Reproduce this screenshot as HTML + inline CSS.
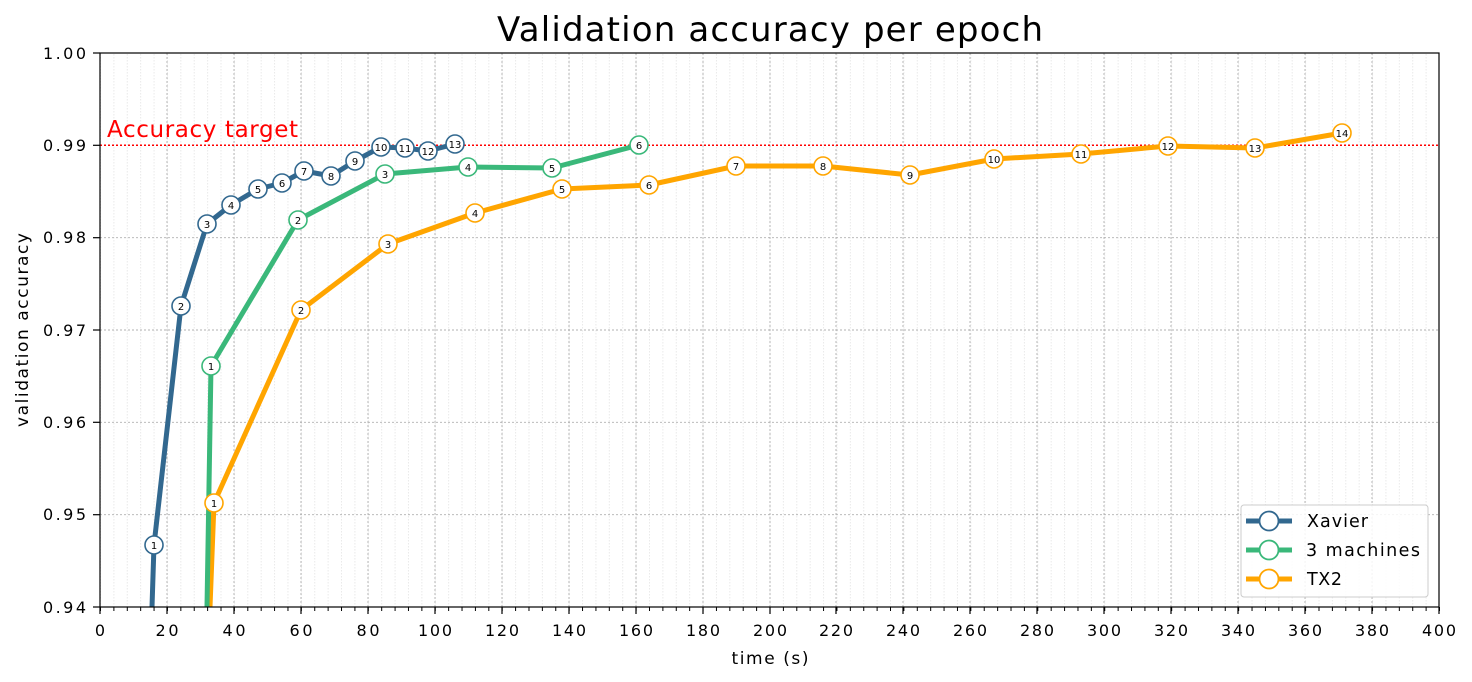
<!DOCTYPE html>
<html><head><meta charset="utf-8"><style>
body{margin:0;background:#fff}
svg{display:block;font-family:"DejaVu Sans","Liberation Sans",sans-serif}
</style></head><body>
<svg width="1472" height="682" viewBox="0 0 1472 682" xmlns="http://www.w3.org/2000/svg">
<defs>
<pattern id="minor" x="100" y="0" width="13.39" height="700" patternUnits="userSpaceOnUse">
<line x1="0.5" y1="0" x2="0.5" y2="700" stroke="#e4e4e4" stroke-width="0.8" stroke-dasharray="1.5,1.5"/>
</pattern>
<pattern id="mtick" x="100" y="0" width="13.39" height="700" patternUnits="userSpaceOnUse">
<line x1="0.5" y1="0" x2="0.5" y2="700" stroke="#000" stroke-width="1"/>
</pattern>
</defs>
<text x="770" y="41" font-size="34" text-anchor="middle" fill="#000" textLength="546" lengthAdjust="spacing">Validation accuracy per epoch</text>
<rect x="100" y="53" width="1339" height="554" fill="url(#minor)"/>
<rect x="100" y="607" width="1340" height="4" fill="url(#mtick)"/>
<g stroke="#b0b0b0" stroke-width="0.9" stroke-dasharray="2,2">
<line x1="167" y1="53" x2="167" y2="607"/><line x1="234" y1="53" x2="234" y2="607"/><line x1="301" y1="53" x2="301" y2="607"/><line x1="368" y1="53" x2="368" y2="607"/><line x1="435" y1="53" x2="435" y2="607"/><line x1="502" y1="53" x2="502" y2="607"/><line x1="569" y1="53" x2="569" y2="607"/><line x1="636" y1="53" x2="636" y2="607"/><line x1="703" y1="53" x2="703" y2="607"/><line x1="770" y1="53" x2="770" y2="607"/><line x1="836" y1="53" x2="836" y2="607"/><line x1="903" y1="53" x2="903" y2="607"/><line x1="970" y1="53" x2="970" y2="607"/><line x1="1037" y1="53" x2="1037" y2="607"/><line x1="1104" y1="53" x2="1104" y2="607"/><line x1="1171" y1="53" x2="1171" y2="607"/><line x1="1238" y1="53" x2="1238" y2="607"/><line x1="1305" y1="53" x2="1305" y2="607"/><line x1="1372" y1="53" x2="1372" y2="607"/>
<line x1="100" y1="514.7" x2="1439" y2="514.7"/><line x1="100" y1="422.3" x2="1439" y2="422.3"/><line x1="100" y1="330" x2="1439" y2="330"/><line x1="100" y1="237.7" x2="1439" y2="237.7"/>
</g>
<line x1="100" y1="145.3" x2="1439" y2="145.3" stroke="#f00" stroke-width="1.5" stroke-dasharray="2,2"/>
<text x="107" y="137" font-size="23" fill="#f00" textLength="191" lengthAdjust="spacing">Accuracy target</text>
<g fill="none" stroke-width="5" stroke-linejoin="round">
<polyline stroke="#ffa500" points="210,607 214,503 301,310 388,244 475,213 562,189 649,185 736,166 823,166 910,175 994,159 1081,154 1168,146 1255,148 1342,133"/>
<polyline stroke="#3ab87a" points="207,607 211,366 298,220 385,174 468,167 552,168 639,145"/>
<polyline stroke="#32688f" points="152,607 154,545 181,306 207,224 231,205 258,189 282,183 304,171 331,176 355,161 381,147 405,148 428,151 455,144"/>
</g>
<g font-size="10" text-anchor="middle" fill="#000">
<g fill="#fff" stroke="#ffa500" stroke-width="1.6">
<circle cx="214" cy="503" r="9"/><circle cx="301" cy="310" r="9"/><circle cx="388" cy="244" r="9"/><circle cx="475" cy="213" r="9"/><circle cx="562" cy="189" r="9"/><circle cx="649" cy="185" r="9"/><circle cx="736" cy="166" r="9"/><circle cx="823" cy="166" r="9"/><circle cx="910" cy="175" r="9"/><circle cx="994" cy="159" r="9"/><circle cx="1081" cy="154" r="9"/><circle cx="1168" cy="146" r="9"/><circle cx="1255" cy="148" r="9"/><circle cx="1342" cy="133" r="9"/>
</g>
<text x="214" y="507">1</text><text x="301" y="314">2</text><text x="388" y="248">3</text><text x="475" y="217">4</text><text x="562" y="193">5</text><text x="649" y="189">6</text><text x="736" y="170">7</text><text x="823" y="170">8</text><text x="910" y="179">9</text><text x="994" y="163">10</text><text x="1081" y="158">11</text><text x="1168" y="150">12</text><text x="1255" y="152">13</text><text x="1342" y="137">14</text>
<g fill="#fff" stroke="#3ab87a" stroke-width="1.6">
<circle cx="211" cy="366" r="9"/><circle cx="298" cy="220" r="9"/><circle cx="385" cy="174" r="9"/><circle cx="468" cy="167" r="9"/><circle cx="552" cy="168" r="9"/><circle cx="639" cy="145" r="9"/>
</g>
<text x="211" y="370">1</text><text x="298" y="224">2</text><text x="385" y="178">3</text><text x="468" y="171">4</text><text x="552" y="172">5</text><text x="639" y="149">6</text>
<g fill="#fff" stroke="#32688f" stroke-width="1.6">
<circle cx="154" cy="545" r="9"/><circle cx="181" cy="306" r="9"/><circle cx="207" cy="224" r="9"/><circle cx="231" cy="205" r="9"/><circle cx="258" cy="189" r="9"/><circle cx="282" cy="183" r="9"/><circle cx="304" cy="171" r="9"/><circle cx="331" cy="176" r="9"/><circle cx="355" cy="161" r="9"/><circle cx="381" cy="147" r="9"/><circle cx="405" cy="148" r="9"/><circle cx="428" cy="151" r="9"/><circle cx="455" cy="144" r="9"/>
</g>
<text x="154" y="549">1</text><text x="181" y="310">2</text><text x="207" y="228">3</text><text x="231" y="209">4</text><text x="258" y="193">5</text><text x="282" y="187">6</text><text x="304" y="175">7</text><text x="331" y="180">8</text><text x="355" y="165">9</text><text x="381" y="151">10</text><text x="405" y="152">11</text><text x="428" y="155">12</text><text x="455" y="148">13</text>
</g>
<rect x="100" y="53" width="1339" height="554" fill="none" stroke="#000" stroke-width="1.2"/>
<g stroke="#000" stroke-width="1.2">
<line x1="100" y1="607" x2="100" y2="614"/><line x1="167" y1="607" x2="167" y2="614"/><line x1="234" y1="607" x2="234" y2="614"/><line x1="301" y1="607" x2="301" y2="614"/><line x1="368" y1="607" x2="368" y2="614"/><line x1="435" y1="607" x2="435" y2="614"/><line x1="502" y1="607" x2="502" y2="614"/><line x1="569" y1="607" x2="569" y2="614"/><line x1="636" y1="607" x2="636" y2="614"/><line x1="703" y1="607" x2="703" y2="614"/><line x1="770" y1="607" x2="770" y2="614"/><line x1="836" y1="607" x2="836" y2="614"/><line x1="903" y1="607" x2="903" y2="614"/><line x1="970" y1="607" x2="970" y2="614"/><line x1="1037" y1="607" x2="1037" y2="614"/><line x1="1104" y1="607" x2="1104" y2="614"/><line x1="1171" y1="607" x2="1171" y2="614"/><line x1="1238" y1="607" x2="1238" y2="614"/><line x1="1305" y1="607" x2="1305" y2="614"/><line x1="1372" y1="607" x2="1372" y2="614"/><line x1="1439" y1="607" x2="1439" y2="614"/>
<line x1="93" y1="607" x2="100" y2="607"/><line x1="93" y1="514.7" x2="100" y2="514.7"/><line x1="93" y1="422.3" x2="100" y2="422.3"/><line x1="93" y1="330" x2="100" y2="330"/><line x1="93" y1="237.7" x2="100" y2="237.7"/><line x1="93" y1="145.3" x2="100" y2="145.3"/><line x1="93" y1="53" x2="100" y2="53"/>
</g>
<g font-size="16" fill="#000" text-anchor="middle" lengthAdjust="spacing">
<text x="100" y="636">0</text><text x="167" y="636" textLength="23">20</text><text x="234" y="636" textLength="23">40</text><text x="301" y="636" textLength="23">60</text><text x="368" y="636" textLength="23">80</text><text x="435" y="636" textLength="34">100</text><text x="502" y="636" textLength="34">120</text><text x="569" y="636" textLength="34">140</text><text x="636" y="636" textLength="34">160</text><text x="703" y="636" textLength="34">180</text><text x="770" y="636" textLength="34">200</text><text x="836" y="636" textLength="34">220</text><text x="903" y="636" textLength="34">240</text><text x="970" y="636" textLength="34">260</text><text x="1037" y="636" textLength="34">280</text><text x="1104" y="636" textLength="34">300</text><text x="1171" y="636" textLength="34">320</text><text x="1238" y="636" textLength="34">340</text><text x="1305" y="636" textLength="34">360</text><text x="1372" y="636" textLength="34">380</text><text x="1439" y="636" textLength="34">400</text>
<text x="770" y="664" font-size="17" textLength="77">time (s)</text>
</g>
<g font-size="16" fill="#000" text-anchor="end" lengthAdjust="spacing">
<text x="86" y="613" textLength="43">0.94</text><text x="86" y="520" textLength="43">0.95</text><text x="86" y="428" textLength="43">0.96</text><text x="86" y="336" textLength="43">0.97</text><text x="86" y="243" textLength="43">0.98</text><text x="86" y="151" textLength="43">0.99</text><text x="86" y="59" textLength="43">1.00</text>
</g>
<text transform="translate(28,330) rotate(-90)" font-size="17" text-anchor="middle" textLength="194" lengthAdjust="spacing">validation accuracy</text>
<rect x="1241" y="505" width="187" height="92" rx="3" fill="#fff" fill-opacity="0.85" stroke="#ccc"/>
<g stroke-width="5">
<line x1="1246" y1="521" x2="1292" y2="521" stroke="#32688f"/>
<line x1="1246" y1="550" x2="1292" y2="550" stroke="#3ab87a"/>
<line x1="1246" y1="579" x2="1292" y2="579" stroke="#ffa500"/>
</g>
<g fill="#fff" stroke-width="1.8">
<circle cx="1269" cy="521" r="9.5" stroke="#32688f"/><circle cx="1269" cy="550" r="9.5" stroke="#3ab87a"/><circle cx="1269" cy="579" r="9.5" stroke="#ffa500"/>
</g>
<g font-size="17.5" fill="#000" lengthAdjust="spacing">
<text x="1307" y="527" textLength="61">Xavier</text><text x="1306" y="556" textLength="114">3 machines</text><text x="1307" y="585" textLength="35">TX2</text>
</g>
</svg>
</body></html>
